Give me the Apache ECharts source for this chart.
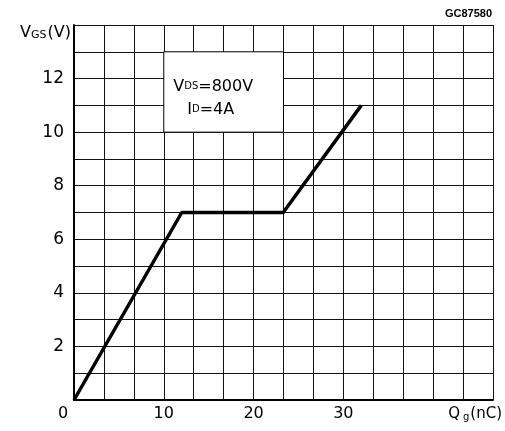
<!DOCTYPE html>
<html><head><meta charset="utf-8">
<script src="https://cdn.jsdelivr.net/npm/echarts@6/dist/echarts.min.js"></script>
<style>html,body{margin:0;padding:0;background:#fff}#c{width:505px;height:431px}</style>
</head><body><div id="c"></div>
<script>
// Gate charge Qg (nC) vs gate-source voltage VGS (V)
const qg = [0, 12, 23.3, 32];
const vgs = [0, 7, 7, 11];
const xTickLabels = [0, 10, 20, 30];
const yTickLabels = [2, 4, 6, 8, 10, 12];
const xMax = 140 / 3;   // 14 grid columns
const xStep = 10 / 3;
const yMax = 14;
const boxX = [10, 70 / 3];
const boxY = [10, 13];

const chart = echarts.init(document.getElementById('c'));
const font = 'DejaVu Sans';
chart.setOption({
  animation: false,
  backgroundColor: '#fff',
  grid: { left: 74, right: 11, top: 25, bottom: 31 },
  xAxis: {
    type: 'value', min: 0, max: xMax, interval: xStep,
    axisLine: { lineStyle: { color: '#000', width: 2 } },
    axisTick: { show: false },
    splitLine: { lineStyle: { color: '#111', width: 1 } },
    axisLabel: {
      customValues: xTickLabels,
      color: '#000', fontFamily: font, fontSize: 16, margin: 6,
      formatter: v => v === 0 ? '{z|0}' : String(Math.round(v)),
      rich: { z: { fontFamily: font, fontSize: 16, color: '#000', padding: [0, 22, 0, 0] } }
    },
    name: '{q|Q}{s|g}{q|(nC)}',
    nameLocation: 'end', nameGap: 9,
    nameTextStyle: {
      align: 'right', verticalAlign: 'top', padding: [6, 0, 0, 0],
      rich: {
        q: { fontFamily: font, fontSize: 15, color: '#000' },
        s: { fontFamily: font, fontSize: 10, color: '#000', verticalAlign: 'bottom', padding: [6, 1, 0, 3] }
      }
    }
  },
  yAxis: {
    type: 'value', min: 0, max: yMax, interval: 1,
    axisLine: { lineStyle: { color: '#000', width: 2 } },
    axisTick: { show: false },
    splitLine: { lineStyle: { color: '#111', width: 1 } },
    axisLabel: {
      color: '#000', fontFamily: font, fontSize: 17, margin: 10,
      formatter: v => yTickLabels.includes(v) ? String(v) : ''
    },
    name: '{q|V}{s|GS}{q|(V)}',
    nameLocation: 'end', nameGap: -8,
    nameTextStyle: {
      align: 'right', verticalAlign: 'middle', padding: [0, 3, 0, 0],
      rich: {
        q: { fontFamily: font, fontSize: 16, color: '#000' },
        s: { fontFamily: font, fontSize: 11, color: '#000', verticalAlign: 'bottom', padding: [4, 1, 0, 0] }
      }
    }
  },
  graphic: [{
    type: 'text', right: 13, top: 8,
    style: { text: 'GC87580', fontFamily: 'Liberation Sans', fontSize: 11, fontWeight: 'bold', fill: '#000' }
  }],
  series: [{
    type: 'line',
    data: qg.map((x, i) => [x, vgs[i]]),
    symbol: 'none',
    lineStyle: { color: '#000', width: 3.5 },
    z: 5,
    markArea: {
      silent: true,
      itemStyle: { color: '#fff', borderColor: '#000', borderWidth: 1 },
      label: {
        show: true, position: 'insideLeft', distance: 10, align: 'left',
        padding: [12, 0, 0, 0],
        formatter: '{a|V}{b|DS}{a|=800V}\n{c|I}{b|D}{a|=4A}',
        lineHeight: 23,
        rich: {
          a: { fontFamily: font, fontSize: 16, color: '#000', lineHeight: 23 },
          c: { fontFamily: font, fontSize: 16, color: '#000', lineHeight: 23, padding: [0, 0, 0, 14] },
          b: { fontFamily: font, fontSize: 10, color: '#000', lineHeight: 23 }
        }
      },
      data: [[{ coord: [boxX[0], boxY[1]] }, { coord: [boxX[1], boxY[0]] }]]
    }
  }]
});
</script>
</body></html>
